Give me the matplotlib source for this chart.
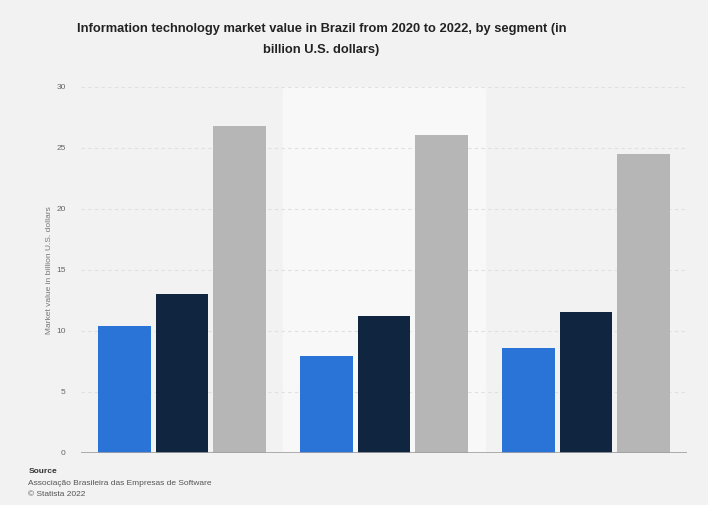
import numpy as np
import matplotlib.pyplot as plt

years = ["2020", "2021", "2022"]
segments = ["Software", "Services", "Hardware"]
software = [10.4, 7.95, 8.6]
services = [13.0, 11.25, 11.55]
hardware = [26.8, 26.1, 24.5]
yticks = [0, 5, 10, 15, 20, 25, 30]

colors = ["#2a74d8", "#10253f", "#b6b6b6"]
bg = "#f2f2f2"

fig = plt.figure(figsize=(7.08, 5.05), dpi=100, facecolor=bg)
plt.rcParams['font.family'] = ['Liberation Sans', 'DejaVu Sans']
ax = fig.add_axes([0.1144, 0.103, 0.856, 0.7248])
ax.set_facecolor(bg)

x = np.arange(len(years))
w = 0.262
step = 0.283
for i, vals in enumerate([software, services, hardware]):
    ax.bar(x + (i - 1) * step, vals, width=w, color=colors[i], label=segments[i], zorder=3)

# lighter band behind every other year
for k in x[1::2]:
    ax.axvspan(k - 0.5, k + 0.5, color="#f8f8f8", zorder=0)

ax.set_xlim(-0.5, 2.5)
ax.set_ylim(0, 30)
ax.set_yticks(yticks)
ax.set_yticklabels([str(t) for t in yticks], fontsize=6, color="#666666")
ax.set_xticks([])
ax.tick_params(axis="y", length=0, pad=11)
for t in yticks[1:]:
    ax.axhline(t, color="#e0e0e0", lw=0.8, ls=(0, (3, 3)), zorder=1)
ax.axhline(0, color="#a0a0a0", lw=1.2, zorder=4)
for s in ax.spines.values():
    s.set_visible(False)

ax.set_ylabel("Market value in billion U.S. dollars", fontsize=6, color="#777777", labelpad=2)

fig.text(0.454, 0.922, "Information technology market value in Brazil from 2020 to 2022, by segment (in\nbillion U.S. dollars)",
         ha="center", va="center", fontsize=9.3, fontweight="bold", color="#222222", linespacing=2.0)

fig.text(0.04, 0.063, "Source", fontsize=6, fontweight="bold", color="#333333")
fig.text(0.04, 0.04, "Associação Brasileira das Empresas de Software", fontsize=6, color="#555555")
fig.text(0.04, 0.018, "© Statista 2022", fontsize=6, color="#555555")

fig.savefig("out.png", dpi=100, facecolor=bg)
